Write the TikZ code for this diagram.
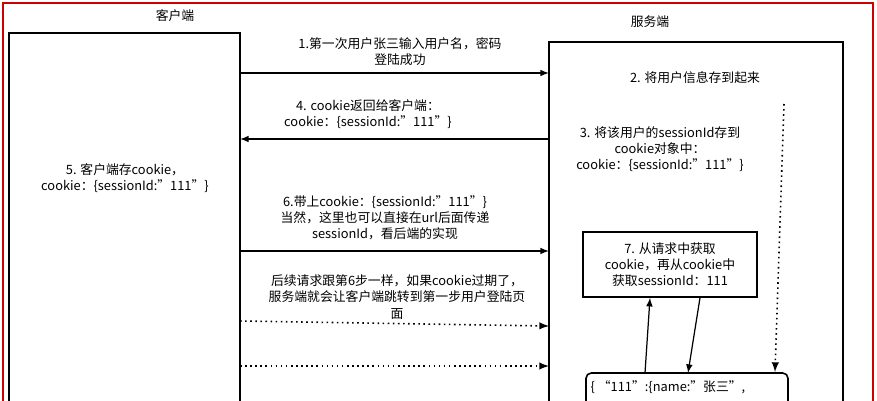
\documentclass[tikz,border=0pt]{standalone}
\usepackage{fontspec}
\setmainfont{Noto Sans CJK SC}
\usetikzlibrary{positioning,calc}
\tikzset{x=0.02cm,y=-0.02cm}
\tikzstyle{lbl}=[font=\fontsize{7.3}{9.2}\selectfont,align=center,inner sep=0pt]
\tikzstyle{msg}=[-latex,line width=0.7pt]
\tikzstyle{later}=[-latex,line width=0.9pt,dotted]
\tikzstyle{box}=[draw,line width=0.9pt]
\begin{document}
\begin{tikzpicture}
  \useasboundingbox (0,0) rectangle (877,400);
  \draw[red!80!black,line width=1.2pt] (3,405) -- (3,3) -- (873,3) -- (873,405);
  %% the two sides
  \draw[box] (9,405) -- (9,33) -- (240,33) -- (240,405);
  \draw[box] (549,405) -- (549,42) -- (843,42) -- (843,405);
  \node[lbl] (client) at (175,16) {客户端};
  \node[lbl] (server) at (650,22) {服务端};
  \node[lbl] (store) at (125,178) {5. 客户端存cookie，\\cookie：\{sessionId:"111"\}};
  %% ends of the messages
  \coordinate (c1) at (240,73);  \coordinate (s1) at (549,73);
  \coordinate (c4) at (240,139); \coordinate (s4) at (549,139);
  \coordinate (c6) at (240,251); \coordinate (s6) at (549,251);
  \coordinate (c8) at (240,321); \coordinate (s8) at (549,326);
  \coordinate (c9) at (240,366); \coordinate (s9) at (549,366);
  \draw[msg] (c1) -- (s1);
  \node[lbl] (m1) at (400,52) {1.第一次用户张三输入用户名，密码\\登陆成功};
  \draw[msg] (s4) -- (c4);
  \node[lbl] (m4) at (368,114) {4. cookie返回给客户端：\\cookie：\{sessionId:"111"\}};
  \draw[msg] (c6) -- (s6);
  \node[lbl] (m6) at (385,218) {6.带上cookie：\{sessionId:"111"\}\\当然，这里也可以直接在url后面传递\\sessionId，看后端的实现};
  \draw[later] (c8) -- (s8);
  \node[lbl] (m8) at (397,297) {后续请求跟第6步一样，如果cookie过期了，\\服务端就会让客户端跳转到第一步用户登陆页\\面};
  \draw[later] (c9) -- (s9);
  %% server side
  \node[lbl] (save) at (695,78) {2. 将用户信息存到起来};
  \node[lbl] (sid) at (660,149) {3. 将该用户的sessionId存到\\cookie对象中：\\cookie：\{sessionId:"111"\}};
  \node[box,lbl,minimum width=174*0.02cm,minimum height=65*0.02cm] (get) at (670,264.5) {7. 从请求中获取\\cookie，再从cookie中\\获取sessionId：111};
  \draw[box,rounded corners=3pt] (586,410) -- (586,373) -- (788,373) -- (788,410);
  \node[lbl,anchor=north] (user) at (668,380) {\{ “111”:\{name:"张三",};
  \coordinate (d0) at (784,104); \coordinate (d1) at (775,372);
  \draw[later] (d0) -- (d1);
  \draw[msg] (645,373) -- (get.south -| 650,0);
  \draw[msg] (get.south -| 700,0) -- (688,373);
\end{tikzpicture}
\end{document}
